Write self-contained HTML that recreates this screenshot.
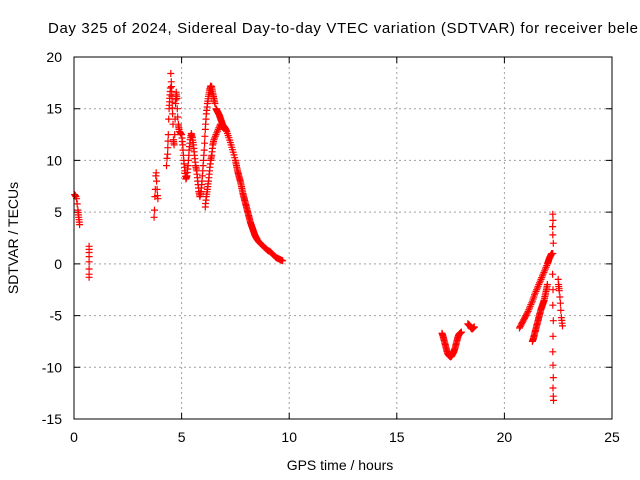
<!DOCTYPE html>
<html><head><meta charset="utf-8"><style>
body{margin:0;background:#fff;}
svg{display:block;font-family:"Liberation Sans",sans-serif;}
</style></head><body>
<svg id="chart" width="640" height="480" viewBox="0 0 640 480" xmlns="http://www.w3.org/2000/svg">
<rect width="640" height="480" fill="#fff"/>
<text x="48" y="33" font-size="15" textLength="590" lengthAdjust="spacing" fill="#000">Day 325 of 2024, Sidereal Day-to-day VTEC variation (SDTVAR) for receiver bele</text>
<g id="grid"></g>
<g id="ticks"></g>
<g id="marks"></g>
<rect x="74" y="57" width="538" height="362" fill="none" stroke="#000" stroke-width="1"/>
<text x="340" y="470" font-size="14" text-anchor="middle">GPS time / hours</text>
<text transform="translate(18,238) rotate(-90)" font-size="14" text-anchor="middle">SDTVAR / TECUs</text>
</svg>
<script>
const xTicks=[0,5,10,15,20,25];
const yTicks=[20,15,10,5,0,-5,-10,-15];
const times=[
0.03,0.06,0.09,0.12,0.15,0.18,0.22,0.26,
0.7,0.7,0.7,0.7,0.7,0.7,0.7,0.7,
3.72,3.74,3.76,3.78,3.8,3.82,3.84,3.86,3.88,3.9,
4.3,4.32,4.35,4.38,4.4,4.42,4.45,4.48,4.5,4.52,4.55,4.58,4.6,4.62,4.65,4.68,4.7,4.72,4.75,4.78,4.8,4.82,4.85,4.88,4.9,
5.0,5.05,5.1,5.15,5.2,5.25,5.3,5.35,5.4,5.45,5.5,
5.55,5.6,5.65,5.7,5.75,5.8,5.85,5.9,5.95,6.0,
6.05,6.1,6.15,6.2,6.25,6.3,6.35,6.4,6.45,6.5,6.55,
6.1,6.15,6.2,6.25,6.3,6.35,6.4,6.45,6.5,6.6,6.7,6.8,6.9,
6.6,6.65,6.7,6.75,6.8,6.85,6.9,6.95,7.0,7.05,
7.1,7.2,7.3,7.4,7.5,7.55,7.6,7.65,7.7,7.75,7.8,7.85,7.9,7.95,8.0,8.05,8.1,8.15,8.2,8.25,8.3,8.35,8.4,8.45,8.5,8.6,8.7,8.8,8.9,9.0,9.1,9.2,9.3,9.4,9.5,9.6,9.7,
17.1,17.15,17.2,17.25,17.3,17.35,17.4,17.45,17.5,17.55,17.6,17.65,17.7,17.75,17.8,17.85,17.9,17.95,18.0,
18.3,18.35,18.4,18.45,18.5,18.55,18.6,
20.7,20.8,20.9,21.0,21.1,21.2,21.3,21.4,21.5,21.6,21.7,21.8,21.9,22.0,22.05,22.1,22.15,22.2,
21.3,21.35,21.4,21.45,21.5,21.55,21.6,21.65,21.7,21.75,21.8,21.85,21.9,21.95,22.0,
22.25,22.26,22.24,22.25,22.27,22.25,22.24,22.26,22.25,22.27,22.26,22.25,22.26,22.27,22.26,22.27,22.28,
22.5,22.52,22.55,22.58,22.6,22.62,22.65,22.7
];
const values=[
6.7,6.6,6.5,6.3,5.8,5.2,4.5,3.8,
1.7,1.4,1.1,0.7,0.2,-0.5,-1.0,-1.3,
4.5,5.2,6.5,7.2,8.5,8.8,8.0,7.2,6.6,6.3,
9.5,10.2,10.6,12.5,14,15,16,17,18.4,17.6,16.2,14.5,13.5,12,11.5,12.5,14,15.5,16.6,16,15,14.2,13.5,13,12.8,
12.5,11.5,10,9,8.2,8.5,9.5,11,12,12.6,12.2,
11.5,10.5,9.5,9,8,7,6.5,7,8,9.5,
11,13,14.5,15.5,16.2,16.8,17.2,17.1,16.5,16,15.5,
5.5,6.5,7.2,8,9,10,10.5,11.5,12,12.5,13,13.5,13.2,
15,14.8,14.6,14.4,14.1,13.8,13.5,13.3,13.2,13,
12.8,12.2,11.5,10.8,10,9.5,9,8.6,8.2,7.8,7.3,6.8,6.4,6.0,5.6,5.2,4.8,4.4,4.0,3.7,3.4,3.1,2.8,2.6,2.4,2.1,1.9,1.7,1.5,1.3,1.2,1.0,0.8,0.6,0.5,0.4,0.3,
-6.7,-7.0,-7.4,-7.8,-8.2,-8.6,-8.8,-8.9,-9.0,-8.9,-8.7,-8.5,-8.2,-7.8,-7.4,-7.0,-6.8,-6.7,-6.6,
-5.8,-5.9,-6.0,-6.2,-6.3,-6.2,-6.1,
-6.2,-5.8,-5.4,-5.0,-4.6,-4.1,-3.6,-3.0,-2.5,-2.0,-1.5,-1.0,-0.5,0,0.3,0.6,0.8,1.0,
-7.5,-7.2,-6.8,-6.4,-6.0,-5.6,-5.2,-4.8,-4.4,-4.1,-3.8,-3.5,-3.0,-2.5,-2.0,
4.8,4.2,3.6,2.8,2.0,1.0,-1.0,-2.5,-4.0,-5.5,-7.0,-8.5,-9.8,-11,-12,-12.8,-13.2,
-1.5,-2.0,-2.6,-3.2,-3.8,-4.5,-5.2,-6.0
];
const X0=74,X1=612,Y0=419,Y1=57;
const xs=v=>X0+(v-0)/(25-0)*(X1-X0);
const ys=v=>Y0-(v+15)/(35)*(Y0-Y1);
const NS='http://www.w3.org/2000/svg';
const grid=document.getElementById('grid'),ticks=document.getElementById('ticks'),marks=document.getElementById('marks');
function mk(tag,attrs,parent){const e=document.createElementNS(NS,tag);for(const k in attrs)e.setAttribute(k,attrs[k]);parent.appendChild(e);return e;}
xTicks.forEach(t=>{const x=xs(t);
 if(t>0&&t<25){const g=mk('line',{x1:x,x2:x,y1:Y1,y2:Y0,stroke:'#a0a0a0','stroke-dasharray':'2,3'},grid);
 
 }
 const tk=mk('path',{d:`M${x},${Y0}v-6M${x},${Y1}v6`,stroke:'#000'},ticks);
 
 
 const l=mk('text',{x:x,y:442,'font-size':14,'text-anchor':'middle'},ticks);l.textContent=t;
 
 
});
yTicks.forEach(t=>{const y=ys(t);
 if(t<20&&t>-15){const g=mk('line',{x1:X0,x2:X1,y1:y,y2:y,stroke:'#a0a0a0','stroke-dasharray':'2,3'},grid);
 
 }
 const tk=mk('path',{d:`M${X0},${y}h6M${X1},${y}h-6`,stroke:'#000'},ticks);
 
 
 const l=mk('text',{x:62,y:y+5,'font-size':14,'text-anchor':'end'},ticks);l.textContent=t;
 
 
});
let d='';
for(let i=0;i<times.length;i++){
 const x=xs(times[i]),y=ys(values[i]);
 d+=`M${(x-3.5).toFixed(1)},${y.toFixed(1)}h7M${x.toFixed(1)},${(y-3.5).toFixed(1)}v7`;
 if(i+1<times.length&&Math.abs(times[i+1]-times[i])<0.2&&Math.abs(times[i+1]-times[i])>0.03){
  const steps=3;
  for(let s=1;s<steps;s++){const f=s/steps;
   const xx=x+(xs(times[i+1])-x)*f,yy=y+(ys(values[i+1])-y)*f;
   d+=`M${(xx-3.5).toFixed(1)},${yy.toFixed(1)}h7M${xx.toFixed(1)},${(yy-3.5).toFixed(1)}v7`;}
 }
}
const p=mk('path',{d:d,stroke:'#ff0000','stroke-width':1.2,fill:'none'},marks);


</script>
</body></html>
